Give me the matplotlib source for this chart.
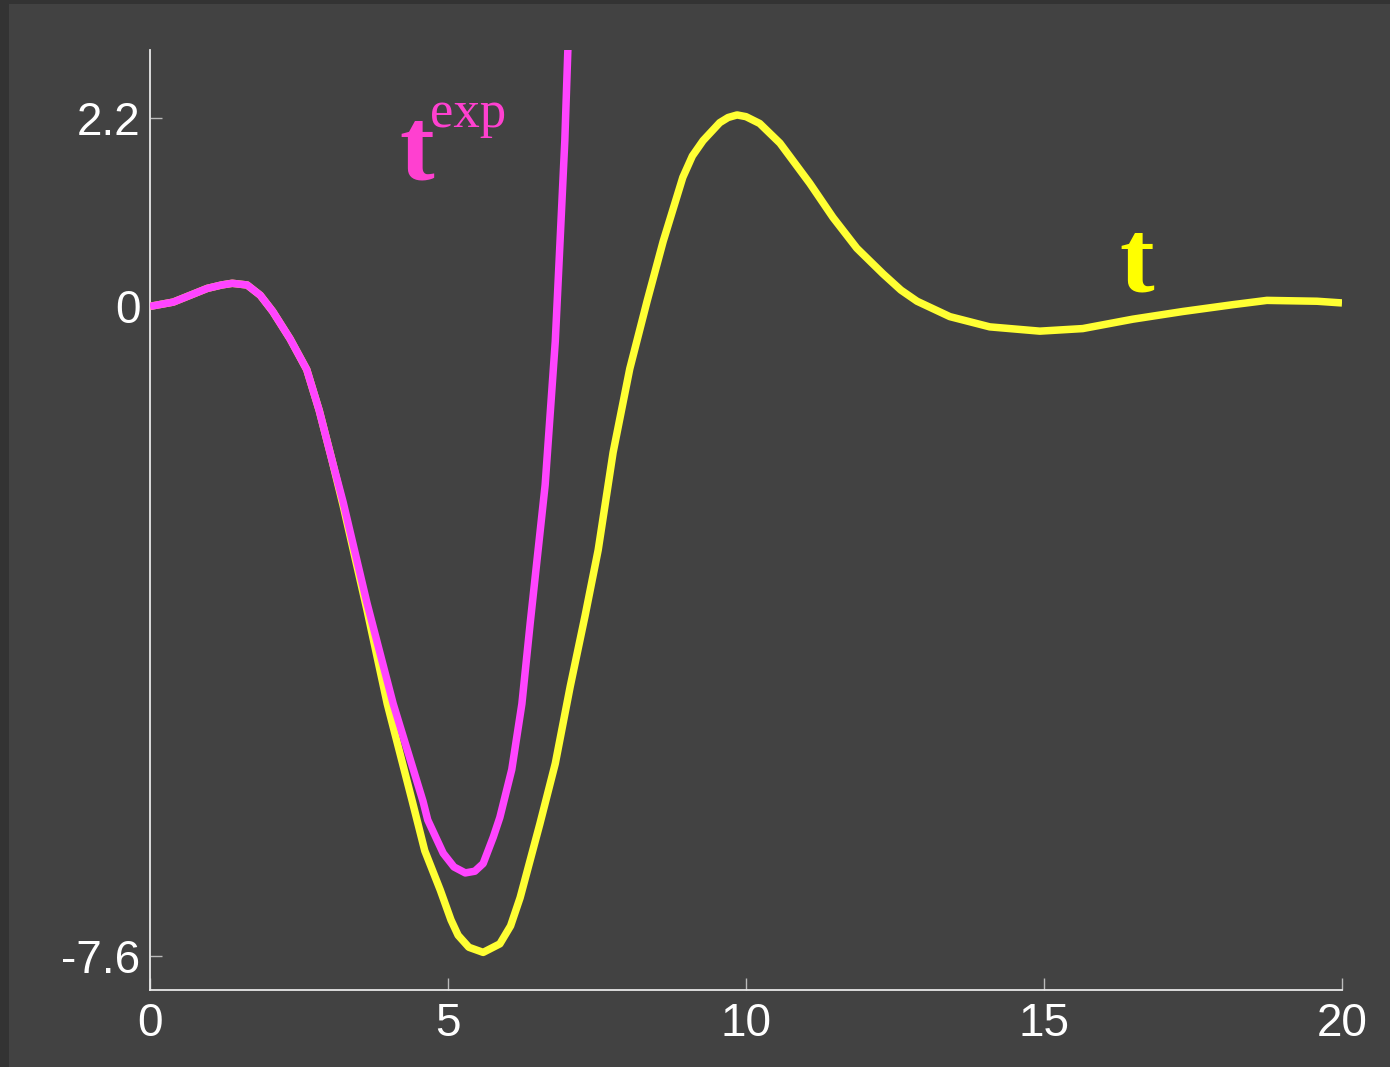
import matplotlib
matplotlib.use("Agg")
import matplotlib.pyplot as plt
from matplotlib.patches import Rectangle

# sampled response t(x) and the exponential approximation t^exp(x)
t_x = [0, 0.39, 0.96, 1.2, 1.38, 1.63, 1.85, 2.06, 2.35, 2.63, 2.84, 3.05,
       3.24, 3.64, 3.98, 4.40, 4.61, 4.87, 5.05, 5.17, 5.35, 5.59, 5.87, 6.05,
       6.21, 6.54, 6.8, 7.05, 7.3, 7.52, 7.77, 8.05, 8.34, 8.61, 8.94, 9.1,
       9.28, 9.56, 9.7, 9.85, 10.0, 10.23, 10.57, 11.07, 11.46, 11.86, 12.3,
       12.6, 12.87, 13.42, 14.09, 14.93, 15.65, 16.49, 17.33, 18.17, 18.74,
       19.58, 20.0]
t_y = [0, 0.05, 0.21, 0.25, 0.27, 0.25, 0.13, -0.06, -0.38, -0.74, -1.22,
       -1.79, -2.33, -3.55, -4.65, -5.79, -6.37, -6.83, -7.18, -7.36, -7.50,
       -7.56, -7.46, -7.25, -6.92, -6.06, -5.35, -4.45, -3.62, -2.85, -1.71,
       -0.73, 0.06, 0.76, 1.51, 1.76, 1.94, 2.15, 2.21, 2.24, 2.22, 2.14, 1.91,
       1.44, 1.04, 0.68, 0.38, 0.19, 0.06, -0.12, -0.24, -0.29, -0.26, -0.15,
       -0.06, 0.02, 0.07, 0.06, 0.04]

texp_x = [0, 0.39, 0.96, 1.2, 1.38, 1.63, 1.85, 2.06, 2.35, 2.63, 2.84, 3.05,
          3.24, 3.64, 4.08, 4.58, 4.66, 4.92, 5.1, 5.29, 5.45, 5.59, 5.76,
          5.87, 6.07, 6.24, 6.38, 6.63, 6.80, 6.88, 6.96, 7.01, 7.04]
texp_y = [0, 0.05, 0.21, 0.25, 0.27, 0.25, 0.13, -0.06, -0.38, -0.74, -1.22,
          -1.79, -2.29, -3.47, -4.65, -5.79, -6.01, -6.40, -6.56, -6.63, -6.61,
          -6.52, -6.21, -5.98, -5.42, -4.65, -3.70, -2.09, -0.41, 0.76, 1.94,
          2.98, 3.5]

x_ticks = [0, 5, 10, 15, 20]
y_ticks = [-7.6, 0, 2.2]
y_tick_labels = ["-7.6", "0", "2.2"]

W, H = 1390, 1067
fig = plt.figure(figsize=(W / 100, H / 100), dpi=100, facecolor="#333333")
bg = Rectangle((9 / W, 0), 1, 1 - 4 / H, transform=fig.transFigure,
               facecolor="#424242", edgecolor="none", zorder=-10)
fig.patches.append(bg)

ax = fig.add_axes([150 / W, 77 / H, 1192 / W, 940 / H])
ax.set_facecolor("none")

ax.plot(t_x, t_y, color="#ffff33", lw=5.4, solid_capstyle="butt",
        solid_joinstyle="round", zorder=3)
ax.plot(texp_x, texp_y, color="#ff44ff", lw=5.4, solid_capstyle="butt",
        solid_joinstyle="round", zorder=4)

ax.set_xlim(0, 20)
ax.set_ylim(-8.0, 3.0)

for side in ["top", "right"]:
    ax.spines[side].set_visible(False)
for side in ["left", "bottom"]:
    ax.spines[side].set_color("#e8e8e8")
    ax.spines[side].set_linewidth(1.3)

ax.set_xticks(x_ticks)
ax.set_yticks(y_ticks)
ax.set_yticklabels(y_tick_labels)
ax.tick_params(direction="in", length=8.5, width=1, color="#bbbbbb",
               labelcolor="white", labelsize=33)
ax.tick_params(axis="y", pad=7)
ax.tick_params(axis="x", pad=9)
for lab in ax.get_xticklabels() + ax.get_yticklabels():
    lab.set_fontfamily("Liberation Sans")

# curve labels
ax.text(16.27, 0.19, "t", color="#ffff00", fontsize=75, fontweight="bold",
        family="Liberation Serif", ha="left", va="baseline")
ax.text(4.19, 1.50, "t", color="#ff40d0", fontsize=75, fontweight="bold",
        family="Liberation Serif", ha="left", va="baseline")
ax.text(4.70, 2.10, "exp", color="#ff40d0", fontsize=38,
        family="Liberation Serif", ha="left", va="baseline")

fig.savefig("out.png", dpi=100, facecolor=fig.get_facecolor())
